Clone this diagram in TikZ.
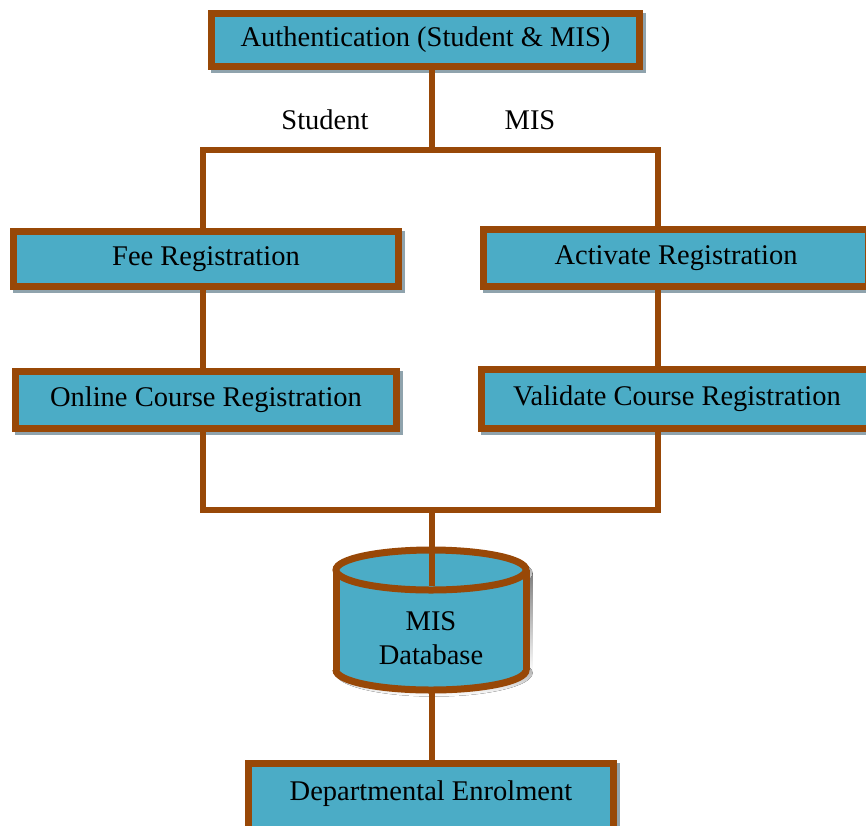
\documentclass[tikz,border=0pt]{standalone}
\usepackage{fontspec}
\setmainfont{Liberation Serif}
\definecolor{boxfill}{HTML}{4BACC6}
\definecolor{edge}{HTML}{984807}
\definecolor{shade}{HTML}{8FA3AD}

\begin{document}
\begin{tikzpicture}[x=1pt,y=-1pt,
  box/.style={draw=edge, fill=boxfill, line width=7pt, inner sep=0pt,
    font=\fontsize{28.5}{32}\selectfont,
    preaction={draw=shade, fill=shade, line width=7pt,
      transform canvas={xshift=3pt, yshift=-3pt}}},
  link/.style={draw=edge, line width=6pt, line join=miter},
  lbl/.style={font=\fontsize{28.5}{34}\selectfont, inner sep=0pt, align=center}]
\useasboundingbox (0,0) rectangle (866,825);
\clip (0,0) rectangle (866,825);

% process boxes
\node[box, minimum width=428, minimum height=53] (auth)   at (425.5,40) {Authentication (Student \& MIS)};
\node[box, minimum width=385, minimum height=55] (fee)    at (206,259)  {Fee Registration};
\node[box, minimum width=385, minimum height=57] (act)    at (676,258)  {Activate Registration};
\node[box, minimum width=381, minimum height=57] (online) at (206,400)  {Online Course Registration};
\node[box, minimum width=391, minimum height=59] (valid)  at (677,399)  {Validate Course Registration};
\node[box, minimum width=365, minimum height=80, text depth=26pt] (dept) at (431,803.5) {Departmental Enrolment};

% branch labels
\node[lbl] (stu) at (325,120) {Student};
\node[lbl] (mis) at (530,120) {MIS};

% junction points
\coordinate (split) at (432,150);
\coordinate (merge) at (432,510);
\coordinate (lcol)  at (203,0);
\coordinate (rcol)  at (658,0);
\coordinate (dbtop) at (432,586);
\coordinate (dbbot) at (432,690);

% database cylinder: shadow, body, outline, lid
\begin{scope}[shift={(3,3)}]
  \fill[shade] (332.5,570) rectangle (529.5,670);
  \fill[shade] (431,670) ellipse (98.5 and 23.5);
  \fill[shade] (431,570) ellipse (98.5 and 23.5);
\end{scope}
\fill[boxfill] (336,570) rectangle (526,670);
\fill[boxfill] (431,670) ellipse (95 and 20);
\draw[edge, line width=7pt] (336,570) -- (336,670) (526,570) -- (526,670);
\begin{scope}
  \clip (320,670) rectangle (545,705);
  \draw[edge, line width=7pt] (431,670) ellipse (95 and 20);
\end{scope}
\draw[edge, fill=boxfill, line width=7pt] (431,570) ellipse (95 and 20);
\node[lbl] (db) at (431,638) {MIS\\Database};

% connectors
\draw[link] (auth.south -| split) -- (split);
\draw[link] (fee.north -| lcol) |- (split) -| (act.north -| rcol);
\draw[link] (fee.south -| lcol) -- (online.north -| lcol);
\draw[link] (act.south -| rcol) -- (valid.north -| rcol);
\draw[link] (online.south -| lcol) |- (merge) -| (valid.south -| rcol);
\draw[link] (merge) -- (dbtop);
\draw[link] (dbbot) -- (dept.north -| dbbot);
\end{tikzpicture}
\end{document}
